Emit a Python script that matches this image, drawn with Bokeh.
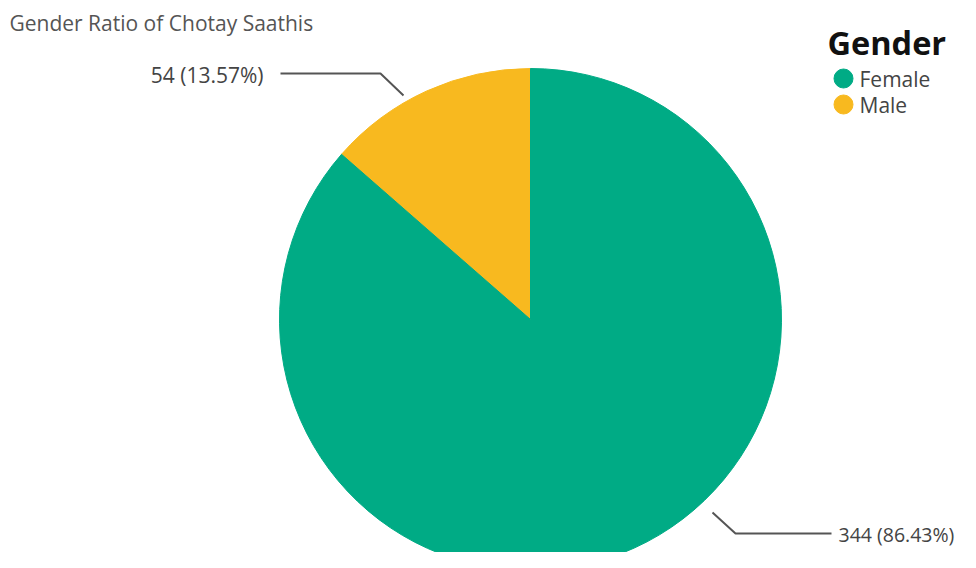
import math
from bokeh.plotting import figure
from bokeh.models import Range1d, ColumnDataSource
from bokeh.core.properties import value
from bokeh.embed import file_html
from bokeh.resources import INLINE

title_text = "Gender Ratio of Chotay Saathis"
legend_title = "Gender"
categories = ["Female", "Male"]
counts = [344, 54]
colors = ["#00AB85", "#F8B91F"]

W, H = 960, 552
p = figure(width=W, height=H, output_backend="svg", toolbar_location=None,
           x_range=Range1d(0, W), y_range=Range1d(0, H), min_border=0)
p.axis.visible = False
p.grid.visible = False
p.outline_line_color = None
p.background_fill_color = "white"

FONT = "Open Sans"
cx, cy, R = 530, 233, 251

total = sum(counts)
order = [1, 0]
start = math.pi / 2
starts, ends, cols = [], [], []
for i in order:
    frac = counts[i] / total
    end = start + frac * 2 * math.pi
    starts.append(start)
    ends.append(end)
    cols.append(colors[i])
    start = end
src = ColumnDataSource(dict(x=[cx] * 2, y=[cy] * 2, s=starts, e=ends, c=cols))
p.wedge(x="x", y="y", radius=R, start_angle="s", end_angle="e",
        fill_color="c", line_color="c", line_width=1, source=src)

lbl_color = "#444444"
male_i, fem_i = 1, 0
male_lbl = f"{counts[male_i]} ({counts[male_i]/total*100:.2f}%)"
fem_lbl = f"{counts[fem_i]} ({counts[fem_i]/total*100:.2f}%)"

p.line([403, 380, 280], [457, 479, 479], line_color="#555555", line_width=2)
p.text([263], [478], text=[male_lbl], text_align="right", text_baseline="middle",
       text_font=value(FONT), text_font_size="21px", text_color=lbl_color)

p.line([712, 735, 831], [40, 19, 19], line_color="#555555", line_width=2)
p.text([838], [18], text=[fem_lbl], text_align="left", text_baseline="middle",
       text_font=value(FONT), text_font_size="19.5px", text_color=lbl_color)

p.text([9], [530], text=[title_text], text_align="left", text_baseline="middle",
       text_font=value(FONT), text_font_size="21px", text_color="#555555")

p.text([827], [510], text=[legend_title], text_align="left", text_baseline="middle",
       text_font=value(FONT), text_font_size="32.5px", text_font_style="bold",
       text_color="#111111")
leg_y = [474, 448]
p.scatter([843, 843], leg_y, size=19, marker="circle", fill_color=colors, line_color=colors)
p.text([859, 859], leg_y, text=categories, text_align="left", text_baseline="middle",
       text_font=value(FONT), text_font_size="21px", text_color=lbl_color)

open("out.html", "w").write(file_html(p, INLINE))
